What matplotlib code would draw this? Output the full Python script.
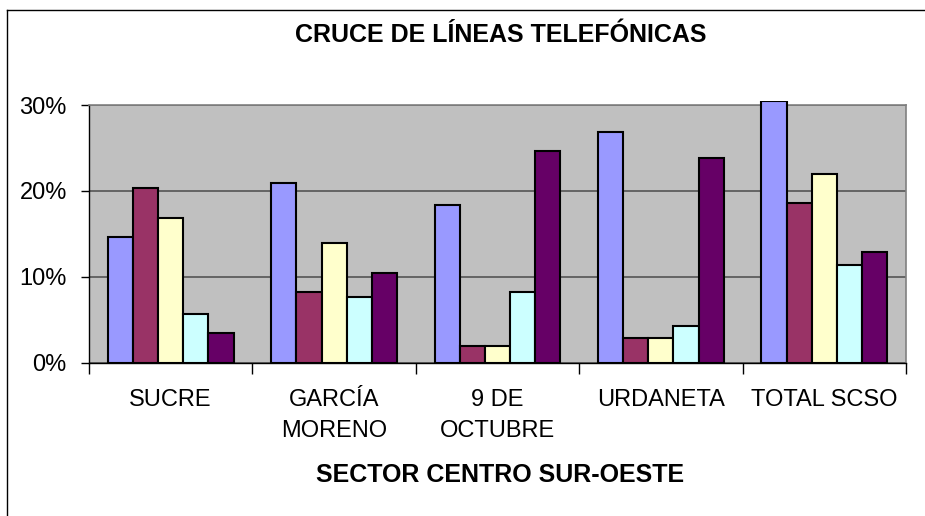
import matplotlib
matplotlib.use("Agg")
import matplotlib.pyplot as plt
import numpy as np
from matplotlib.lines import Line2D
from matplotlib.patches import Rectangle

plt.rcParams['font.family'] = ['Liberation Sans', 'DejaVu Sans']

categories = ["SUCRE", "GARCÍA\nMORENO", "9 DE\nOCTUBRE", "URDANETA", "TOTAL SCSO"]
serie_1 = [14.6, 20.9, 18.4, 26.8, 30.5]
serie_2 = [20.3, 8.2, 2.0, 2.9, 18.6]
serie_3 = [16.9, 13.9, 2.0, 2.9, 22.0]
serie_4 = [5.7, 7.7, 8.2, 4.3, 11.4]
serie_5 = [3.5, 10.5, 24.6, 23.8, 12.9]
series = [serie_1, serie_2, serie_3, serie_4, serie_5]
colors = ["#9999FF", "#993366", "#FFFFCC", "#CCFFFF", "#660066"]
y_ticks = [0, 10, 20, 30]
y_labels = ["0%", "10%", "20%", "30%"]

W, H = 925, 516
fig = plt.figure(figsize=(W / 100, H / 100), dpi=100)
fig.patch.set_facecolor("white")

# outer chart border (left and top edges)
fig.add_artist(Line2D([7 / W, 7 / W], [0, 1 - 10 / H], color="black", lw=1.0))
fig.add_artist(Line2D([7 / W, 1], [1 - 10 / H, 1 - 10 / H], color="black", lw=1.0))

left, right = 89 / W, 906 / W
bottom, top = 1 - 362.7 / H, 1 - 105 / H
ax = fig.add_axes([left, bottom, right - left, top - bottom])
ax.set_facecolor("#C0C0C0")

n_cat = len(categories)
n_ser = len(series)
gap = 1.5
bw = 1.0 / (n_ser + gap)
x = np.arange(n_cat)

clip = Rectangle((0, 0), 1, 1.014, transform=ax.transAxes, facecolor="none", edgecolor="none")
ax.add_patch(clip)

for i, (vals, c) in enumerate(zip(series, colors)):
    offs = (i - (n_ser - 1) / 2) * bw
    bars = ax.bar(x + offs, vals, width=bw, color=c, edgecolor="black", linewidth=1.5, zorder=3)
    for b in bars:
        b.set_clip_path(clip)

ax.set_xlim(-0.5, n_cat - 0.5)
ax.set_ylim(0, 30)

ax.set_yticks(y_ticks)
ax.set_yticklabels(y_labels, fontsize=17)
ax.yaxis.grid(True, color="#555555", linewidth=1.2, zorder=1)
ax.set_axisbelow(True)
ax.tick_params(axis="y", direction="out", length=6, width=1, color="black", pad=10)

ax.set_xticks(x)
ax.set_xticklabels(categories, fontsize=17, linespacing=1.55, va="top")
ax.tick_params(axis="x", which="major", length=0, pad=19)
ax.set_xticks(np.arange(n_cat + 1) - 0.5, minor=True)
ax.tick_params(axis="x", which="minor", direction="out", length=8, width=1, color="black")

for s in ["top", "right"]:
    ax.spines[s].set_color("#808080")
    ax.spines[s].set_linewidth(1.2)
for s in ["left", "bottom"]:
    ax.spines[s].set_color("black")
    ax.spines[s].set_linewidth(1.0)

fig.text(500.5 / W, 1 - 35 / H, "CRUCE DE LÍNEAS TELEFÓNICAS", ha="center", va="center",
         fontsize=18, fontweight="bold")
fig.text(500 / W, 1 - 475 / H, "SECTOR CENTRO SUR-OESTE", ha="center", va="center",
         fontsize=18, fontweight="bold")

fig.savefig("out.png", dpi=100)
